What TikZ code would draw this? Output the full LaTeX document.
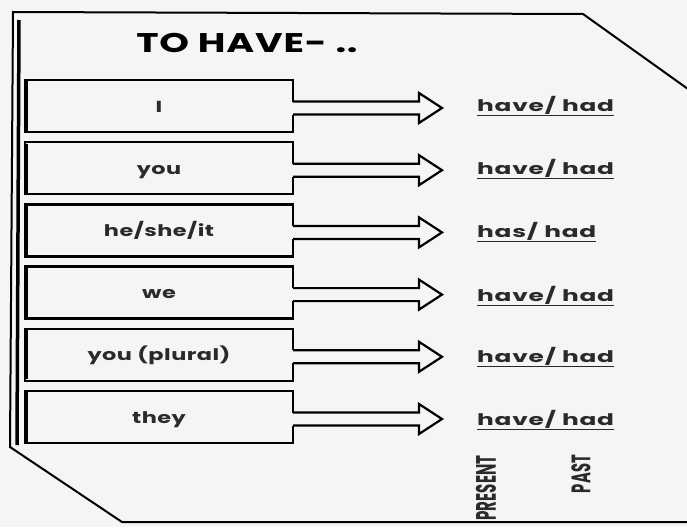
\documentclass[tikz,border=0pt]{standalone}
\usepackage{fontspec}
\setmainfont{Poppins}
\newfontfamily\widefont{Poppins}[FakeStretch=1.4,LetterSpace=3]
\newfontfamily\lblfont{Poppins}[FakeStretch=1.55,LetterSpace=5]
\usetikzlibrary{calc}
\definecolor{ink}{HTML}{2A2A2A}
\definecolor{shade}{HTML}{8C8C8C}
\definecolor{paper}{HTML}{F5F5F3}
\begin{document}
\begin{tikzpicture}[x=1pt,y=-1pt,
  frame/.style={draw=black, line width=2pt, line join=miter},
  stepbox/.style={draw=black, line width=2.3pt, fill=paper, minimum width=268pt, minimum height=52pt, inner sep=0pt, text height=14pt, text depth=2pt, font=\widefont\bfseries\fontsize{16}{16}\selectfont, text=ink},
  lbl/.style={anchor=west, inner sep=1pt, font=\lblfont\bfseries\fontsize{16}{16}\selectfont, text=ink},
  arr/.style={draw=black, line width=2.2pt, line join=miter},
  ttl/.style={font=\widefont\bfseries\fontsize{27}{27}\selectfont, text=black},
  side/.style={rotate=90, inner sep=0pt, text=ink, font=\bfseries},
]
\useasboundingbox[fill=paper] (0,0) rectangle (687,527);
% outer frame
\draw[frame] (702,99) -- (583,14) -- (13,12) -- (10,447) -- (122,522) -- (700,522);
\draw[shade, line width=3.5pt] (19,20) -- (17,445);
% title
\node[ttl] (title) at (247,43) {TO HAVE- ..};
% boxes
\node[stepbox] (b1) at (159,106) {I};
\node[stepbox] (b2) at (159,168.2) {you};
\node[stepbox] (b3) at (159,230.4) {he/she/it};
\node[stepbox] (b4) at (159,292.6) {we};
\node[stepbox] (b5) at (159,354.8) {you (plural)};
\node[stepbox] (b6) at (159,417) {they};
% labels
\node[lbl] (l1) at (476,106) {\underline{have/ had}};
\node[lbl] (l2) at (476,169) {\underline{have/ had}};
\node[lbl] (l3) at (476,232) {\underline{has/ had}};
\node[lbl] (l4) at (476,296) {\underline{have/ had}};
\node[lbl] (l5) at (476,357) {\underline{have/ had}};
\node[lbl] (l6) at (476,420) {\underline{have/ had}};
% inner shading of the boxes and arrows
\foreach \i in {1,...,6}{
  \draw[shade, line width=2.5pt] ($(b\i.north west)+(3,2.5)$) -- ($(b\i.south west)+(3,-2.5)$);
  \fill[paper] ($(b\i.east)+(-2,-4.5)$) rectangle ($(b\i.east)+(2,8.5)$);
  \draw[arr] ($(b\i.east)+(-1.15,-4.5)$)
    -- ($(b\i.east -| l\i.west)+(-57,-4.5)$)
    -- ($(b\i.east -| l\i.west)+(-57,-13)$)
    -- ($(b\i.east -| l\i.west)+(-34,2)$)
    -- ($(b\i.east -| l\i.west)+(-57,17)$)
    -- ($(b\i.east -| l\i.west)+(-57,8.5)$)
    -- ($(b\i.east)+(-1.15,8.5)$);
}
% column headings
\node[side] (pres) at (486,488) {\resizebox{65pt}{20pt}{PRESENT}};
\node[side] (past) at (581,474) {\resizebox{38pt}{19pt}{PAST}};
\end{tikzpicture}
\end{document}
